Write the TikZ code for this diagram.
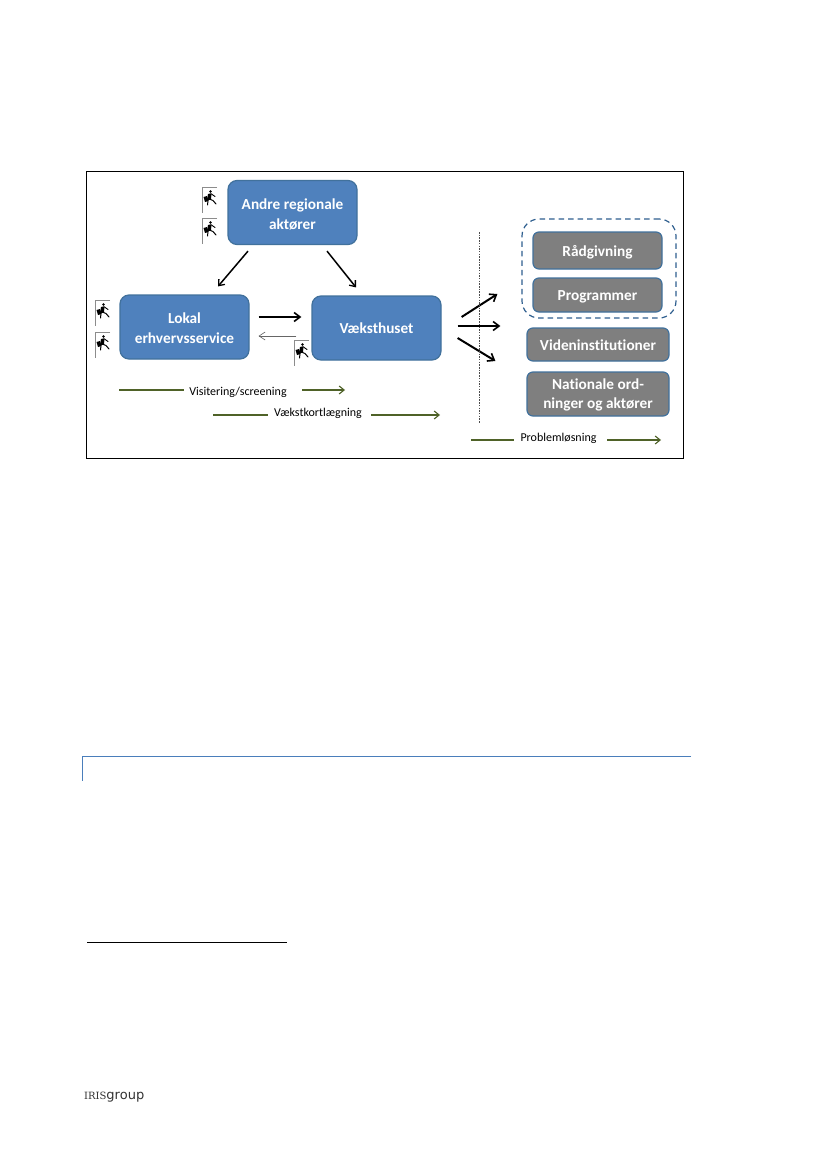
\documentclass[tikz,border=0pt]{standalone}
\usepackage{fontspec}
\setmainfont[Ligatures=NoCommon]{Carlito}
\newfontfamily\logofont{DejaVu Sans}
\newfontfamily\logoserif{DejaVu Serif}
\usetikzlibrary{arrows.meta}
\definecolor{boxblue}{HTML}{4F81BD}
\definecolor{boxedge}{HTML}{41719C}
\definecolor{boxgrey}{HTML}{7F7F7F}
\definecolor{dashblue}{HTML}{2F5F8F}
\definecolor{olive}{HTML}{4F6228}
\definecolor{rule}{HTML}{4A7EBB}
\newcommand{\droptext}[1]{\rule{0pt}{#1}}
\tikzset{
  x=1pt,y=-1pt,
  bluebox/.style={draw=boxedge,line width=1.2pt,fill=boxblue,rounded corners=9pt,text=white,font=\bfseries\fontsize{15.3}{19.5}\selectfont,align=center,minimum width=129pt,minimum height=64pt,inner sep=0pt},
  greybox/.style={draw=boxedge,line width=1.2pt,fill=boxgrey,rounded corners=6pt,text=white,font=\bfseries\fontsize{15.3}{19.5}\selectfont,align=center,inner sep=0pt},
  flow/.style={-{Straight Barb[length=5pt,width=8pt,line width=1.3pt]},line width=1.5pt,black},
  flowthick/.style={-{Straight Barb[length=6pt,width=9pt,line width=1.6pt]},line width=2pt,black},
  backflow/.style={-{Straight Barb[length=6pt,width=8pt]},line width=.6pt,black!60},
  stage/.style={line width=1.1pt,olive},
  stagearrow/.style={stage,-{Straight Barb[length=5pt,width=8pt]}},
  stagetext/.style={font=\fontsize{12}{14}\selectfont,text=black,inner sep=0pt},
  runner/.pic={
    \draw[black!45,line width=.6pt] (15,0) -- (0,0) -- (0,26);
    \fill[black] (8.5,4.5) circle (1.4);
    \fill[black] (6,7) -- (9.5,6.2) -- (9,12.5) -- (5,13.5) -- cycle;
    \fill[black] (1.5,10) -- (5,9) -- (6.5,14) -- (3,15) -- cycle;
    \draw[black,line width=.9pt,line cap=round] (9.5,7) -- (13,9.5);
    \draw[black,line width=1pt,line cap=round] (8.5,12.5) -- (11,13.5) -- (14,17);
    \draw[black,line width=1pt,line cap=round] (6,13.5) -- (5.5,18);
  }
}
\begin{document}
\begin{tikzpicture}
\useasboundingbox (0,0) rectangle (827,1169);
\fill[white] (0,0) rectangle (827,1169);
% frame
\draw[black,line width=1pt] (86,172) rectangle (683,458);
% main boxes
\node[bluebox] (andre) at (292.5,212.5) {\droptext{15pt}Andre regionale\\aktører};
\node[bluebox] (lokal) at (184.5,327) {\droptext{13pt}Lokal\\erhvervsservice};
\node[bluebox] (vaekst) at (376.5,328) {Væksthuset};
% right-hand boxes
\node[greybox,minimum width=129pt,minimum height=37pt] (raad) at (597.5,250.5) {\droptext{14pt}Rådgivning};
\node[greybox,minimum width=129pt,minimum height=34pt] (prog) at (597.5,295) {\droptext{14pt}Programmer};
\node[greybox,minimum width=142pt,minimum height=33pt] (viden) at (598,344.5) {\droptext{13pt}Videninstitutioner};
\node[greybox,minimum width=142pt,minimum height=44pt] (nat) at (598,394) {\droptext{13pt}Nationale ord-\\ninger og aktører};
\node[draw=dashblue,line width=1.2pt,dash pattern=on 5.5pt off 4pt,rounded corners=17pt,minimum width=154pt,minimum height=99pt,inner sep=0pt] (gruppe) at (599,268.5) {};
% runners
\pic at (202,187) {runner};
\pic at (202,218) {runner};
\pic at (95,300) {runner};
\pic at (95,332) {runner};
\pic at (294,340) {runner};
% connectors
\draw[flow] ([xshift=-44.5pt,yshift=-6pt]andre.south) -- ([xshift=33.5pt,yshift=8pt]lokal.north);
\draw[flow] ([xshift=34.5pt,yshift=-6pt]andre.south) -- ([xshift=-20.5pt,yshift=8pt]vaekst.north);
\draw[flowthick] ([xshift=9pt,yshift=10pt]lokal.east) -- ([xshift=-10pt,yshift=11pt]vaekst.west);
\draw[backflow] ([xshift=-15pt,yshift=-8pt]vaekst.west) -- ([xshift=9pt,yshift=-9pt]lokal.east);
\draw[flowthick] ([xshift=20pt,yshift=11pt]vaekst.east) -- ([xshift=-24pt,yshift=-25.5pt]gruppe.west);
\draw[flowthick] ([xshift=16pt,yshift=2pt]vaekst.east) -- ([xshift=-26pt,yshift=18.5pt]viden.west);
\draw[flowthick] ([xshift=16pt,yshift=-10pt]vaekst.east) -- ([xshift=-31pt,yshift=-16.5pt]viden.west);
% dotted divider
\coordinate (divtop) at (479,232);
\coordinate (divbot) at (479,423);
\draw[black!70,line width=.6pt,dash pattern=on 1.5pt off 1.2pt] (divtop) -- (divbot);
% stage labels
\node[stagetext] (visit) at (238,392) {Visitering/screening};
\node[stagetext] (kort) at (318,413) {Vækstkortlægning};
\node[stagetext] (prob) at (558.5,438) {Problemløsning};
\coordinate (v0) at (119,390); \coordinate (v1) at (184,390);
\coordinate (v2) at (302,390); \coordinate (v3) at (345,390);
\coordinate (k0) at (213,415); \coordinate (k1) at (268,415);
\coordinate (k2) at (371,415); \coordinate (k3) at (440,415);
\coordinate (p0) at (471,440); \coordinate (p1) at (514,440);
\coordinate (p2) at (607,440); \coordinate (p3) at (661,440);
\draw[stage] (v0) -- (v1); \draw[stagearrow] (v2) -- (v3);
\draw[stage] (k0) -- (k1); \draw[stagearrow] (k2) -- (k3);
\draw[stage] (p0) -- (p1); \draw[stagearrow] (p2) -- (p3);
% page furniture
\draw[rule,line width=1pt] (691,756.5) -- (82,756.5) -- (82,781);
\draw[black,line width=1pt] (87,942.5) -- (287,942.5);
\node[inner sep=0pt,anchor=west,text=black!80] (logo) at (84,1097.5) {\logoserif\fontsize{10}{14}\selectfont IRIS\logofont\fontsize{13}{14}\selectfont group};
\end{tikzpicture}
\end{document}
